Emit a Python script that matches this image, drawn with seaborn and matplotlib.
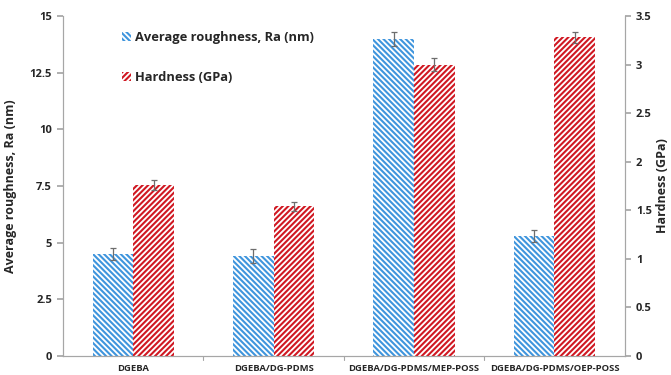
import matplotlib
matplotlib.use("Agg")
import matplotlib.pyplot as plt
import pandas as pd
import seaborn as sns
from matplotlib.patches import Patch

# values
samples = ["DGEBA", "DGEBA/DG-PDMS", "DGEBA/DG-PDMS/MEP-POSS", "DGEBA/DG-PDMS/OEP-POSS"]
roughness = [4.5, 4.4, 14.0, 5.3]          # Ra, nm (left axis)
roughness_err = [0.25, 0.32, 0.32, 0.27]
hardness = [1.76, 1.54, 3.0, 3.28]         # GPa (right axis)
hardness_err = [0.05, 0.05, 0.07, 0.06]

series = ["Average roughness, Ra (nm)", "Hardness (GPa)"]
colors = ["#3f95dd", "#d01822"]
hatches = ["\\\\\\\\\\\\", "//////"]

sns.set_theme(style="white")
plt.rcParams["font.family"] = ["Open Sans", "DejaVu Sans"]
plt.rcParams["font.weight"] = "bold"
plt.rcParams["hatch.linewidth"] = 1.5

grey = "#a6a6a6"

df_r = pd.DataFrame({"sample": samples, "series": series[0], "value": roughness})
df_h = pd.DataFrame({"sample": samples, "series": series[1], "value": hardness})

fig = plt.figure(figsize=(6.71, 3.75), dpi=100)
ax1 = fig.add_axes([0.094, 0.051, 0.837, 0.906])
ax2 = ax1.twinx()

width = 0.58
# each axis gets one series, hue_order + dodge keep both slots
sns.barplot(data=df_r, x="sample", y="value", hue="series", hue_order=series,
            order=samples, width=width, dodge=True, errorbar=None, ax=ax1, legend=False)
sns.barplot(data=df_h, x="sample", y="value", hue="series", hue_order=series,
            order=samples, width=width, dodge=True, errorbar=None, ax=ax2, legend=False)


def style_bars(ax, color, hatch, err):
    bars = sorted(ax.patches, key=lambda p: p.get_x())
    for p, e in zip(bars, err):
        p.set_facecolor("white")
        p.set_edgecolor(color)
        p.set_hatch(hatch)
        p.set_linewidth(0)
        cx = p.get_x() + p.get_width() / 2
        ax.errorbar(cx, p.get_height(), yerr=e, color="#6d6d6d", lw=0.9,
                    capsize=2.2, capthick=0.9)


style_bars(ax1, colors[0], hatches[0], roughness_err)
style_bars(ax2, colors[1], hatches[1], hardness_err)

ax1.set_ylim(0, 15)
ax1.set_yticks([0, 2.5, 5, 7.5, 10, 12.5, 15])
ax1.set_yticklabels(["0", "2.5", "5", "7.5", "10", "12.5", "15"])
ax2.set_ylim(0, 3.5)
ax2.set_yticks([0, 0.5, 1, 1.5, 2, 2.5, 3, 3.5])
ax2.set_yticklabels(["0", "0.5", "1", "1.5", "2", "2.5", "3", "3.5"])

ax1.set_xlim(-0.5, 3.5)
ax1.set_xlabel("")
ax1.set_xticks(range(len(samples)))
ax1.set_xticklabels(samples, fontsize=6.8, fontweight="bold")
ax1.tick_params(axis="x", length=0, pad=6)
for b in [0.5, 1.5, 2.5]:
    ax1.plot([b, b], [0, -0.012], transform=ax1.get_xaxis_transform(),
             color=grey, lw=0.8, clip_on=False)

ax1.set_ylabel("Average roughness, Ra (nm)", fontsize=9, fontweight="bold", labelpad=9)
ax2.set_ylabel("Hardness (GPa)", fontsize=9, fontweight="bold", labelpad=3)

for ax in (ax1, ax2):
    ax.spines["top"].set_visible(False)
    for side in ["left", "right", "bottom"]:
        ax.spines[side].set_color(grey)
        ax.spines[side].set_linewidth(0.8)
ax1.tick_params(axis="y", left=True, length=4, color=grey, labelsize=8, pad=4)
ax2.tick_params(axis="y", right=True, length=4, color=grey, labelsize=8, pad=4)

handles = [Patch(facecolor="white", edgecolor=c, hatch=h, linewidth=0)
           for c, h in zip(colors, hatches)]
ax1.legend(handles, series, loc="upper left", bbox_to_anchor=(0.085, 0.99),
           frameon=False, handlelength=0.7, handleheight=0.7,
           handletextpad=0.3, labelspacing=2.1,
           prop={"weight": "bold", "size": 9.3})

fig.savefig("out.png", dpi=100)
